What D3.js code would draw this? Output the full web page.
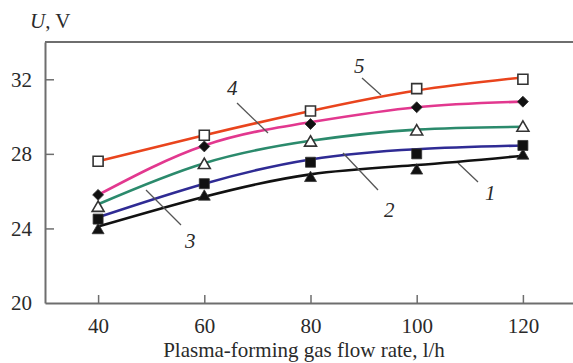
<!DOCTYPE html>
<html>
<head>
<meta charset="utf-8">
<script src="https://cdn.jsdelivr.net/npm/d3@7"></script>
<style>
	body { margin: 0; background: #fff; }
	svg { display: block; }
	text { font-family: "Liberation Serif", "Times New Roman", Times, "DejaVu Serif", serif; fill: #2a2a2a; }
</style>
</head>
<body>
<div id="chart"></div>
<script>
// gas flow rates, l/h
var flowRates = [40, 60, 80, 100, 120];
var xTicks = [40, 60, 80, 100, 120];
var yTicks = [20, 24, 28, 32];

// measured voltage, V (markers)
var u1 = [23.9, 25.7, 26.7, 27.1, 27.9];
var u2 = [24.5, 26.4, 27.55, 28.0, 28.45];
var u3 = [25.1, 27.4, 28.6, 29.2, 29.4];
var u4 = [25.8, 28.4, 29.6, 30.5, 30.8];
var u5 = [27.6, 29.0, 30.3, 31.5, 32.0];

// fitted curves
var fit1 = [24.1, 25.7, 26.9, 27.4, 27.9];
var fit2 = [24.6, 26.4, 27.7, 28.25, 28.45];
var fit3 = [25.3, 27.5, 28.7, 29.3, 29.45];
var fit4 = [25.8, 28.45, 29.7, 30.5, 30.8];
var fit5 = [27.6, 29.0, 30.3, 31.4, 32.1];

var curveLabels = ["1", "2", "3", "4", "5"];

var serif = "'Liberation Serif', 'Times New Roman', Times, 'DejaVu Serif', serif";

var width = 573, height = 363;
var svg = d3.select("#chart").append("svg")
	.attr("width", width)
	.attr("height", height)
	.attr("font-family", serif);

var x = d3.scaleLinear().domain([30, 130]).range([45, 576]);
var y = d3.scaleLinear().domain([20, 34]).range([303, 42]);

// frame top line
svg.append("line")
	.attr("x1", 45).attr("x2", 580)
	.attr("y1", y(34)).attr("y2", y(34))
	.attr("stroke", "#6e6e6e").attr("stroke-width", 2);

// axes, ticks point inward
var xAxis = svg.append("g")
	.attr("transform", "translate(0," + y(20) + ")")
	.call(d3.axisBottom(x).tickValues(xTicks).tickSize(-8).tickPadding(15).tickSizeOuter(0));
var yAxis = svg.append("g")
	.attr("transform", "translate(" + x(30) + ",0)")
	.call(d3.axisLeft(y).tickValues(yTicks).tickSize(-9).tickPadding(13).tickSizeOuter(0));

[xAxis, yAxis].forEach(function(ax) {
	ax.attr("font-family", serif).attr("font-size", 21);
	ax.select(".domain").attr("stroke", "#6e6e6e").attr("stroke-width", 2);
	ax.selectAll(".tick line").attr("stroke", "#6e6e6e").attr("stroke-width", 1.5);
	ax.selectAll(".tick text")
		.style("font-family", serif)
		.style("font-size", "21px")
		.attr("fill", "#2a2a2a");
});
yAxis.selectAll(".tick").filter(function(d) { return d === 20; }).select("line").remove();

// axis titles
var yTitle = svg.append("text").attr("x", 30).attr("y", 28).style("font-size", "21px");
yTitle.append("tspan").style("font-style", "italic").text("U");
yTitle.append("tspan").text(", V");

svg.append("text")
	.attr("x", 304).attr("y", 357)
	.attr("text-anchor", "middle")
	.style("font-size", "21px")
	.text("Plasma-forming gas flow rate, l/h");

// curves
var series = [
	{fit: fit1, pts: u1, color: "#111111", mark: "tri-filled"},
	{fit: fit2, pts: u2, color: "#2f2b94", mark: "sq-filled"},
	{fit: fit3, pts: u3, color: "#2b8a6c", mark: "tri-open"},
	{fit: fit4, pts: u4, color: "#e2388f", mark: "diamond"},
	{fit: fit5, pts: u5, color: "#e9441d", mark: "sq-open"}
];

var line = d3.line()
	.x(function(d, i) { return x(flowRates[i]); })
	.y(function(d) { return y(d); })
	.curve(d3.curveNatural);

svg.selectAll("path.fit")
	.data(series)
	.enter()
	.append("path")
	.attr("class", "fit")
	.attr("d", function(d) { return line(d.fit); })
	.attr("fill", "none")
	.attr("stroke", function(d) { return d.color; })
	.attr("stroke-width", 2.6);

// leader lines and curve numbers
var leaders = [
	{lab: [485, 200], from: [458, 163], to: [478, 182]},
	{lab: [384, 217], from: [343, 153], to: [378, 190]},
	{lab: [185, 248], from: [146, 190], to: [181, 225]},
	{lab: [227, 95], from: [237, 103], to: [268, 133]},
	{lab: [354, 73], from: [362, 78], to: [381, 95]}
];
leaders.forEach(function(l, i) {
	svg.append("line")
		.attr("x1", l.from[0]).attr("y1", l.from[1])
		.attr("x2", l.to[0]).attr("y2", l.to[1])
		.attr("stroke", "#555").attr("stroke-width", 1.3);
	svg.append("text")
		.attr("x", l.lab[0]).attr("y", l.lab[1])
		.style("font-size", "21px")
		.style("font-style", "italic")
		.text(curveLabels[i]);
});

// markers
var symTri = d3.symbol().type(d3.symbolTriangle).size(62);
var symSq = d3.symbol().type(d3.symbolSquare).size(100);
var symDia = d3.symbol().type(d3.symbolSquare).size(60);

series.forEach(function(s) {
	var g = svg.append("g");
	g.selectAll("path")
		.data(s.pts)
		.enter()
		.append("path")
		.attr("transform", function(d, i) {
			var t = "translate(" + x(flowRates[i]) + "," + y(d) + ")";
			return s.mark === "diamond" ? t + "rotate(45)" : t;
		})
		.attr("d", function() {
			if (s.mark === "diamond") return symDia();
			if (s.mark.indexOf("tri") === 0) return symTri();
			return symSq();
		})
		.attr("fill", function() {
			return s.mark.indexOf("open") > 0 ? "#fff" : "#111";
		})
		.attr("stroke", "#333")
		.attr("stroke-width", function() {
			return s.mark.indexOf("open") > 0 ? 1.6 : 0.8;
		});
});
</script>
</body>
</html>
